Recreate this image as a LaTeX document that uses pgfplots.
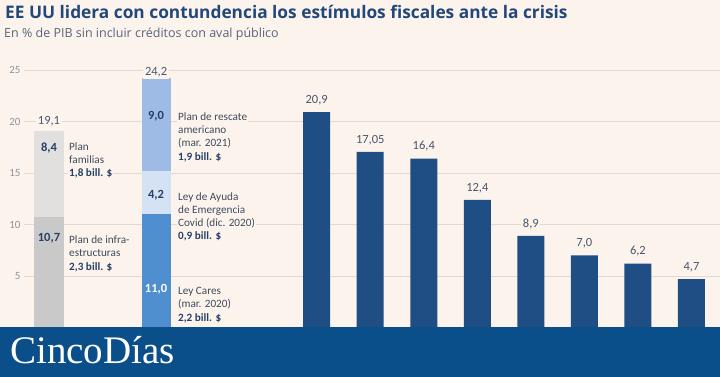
\documentclass[border=0pt]{standalone}
\usepackage{pgfplots}
\pgfplotsset{compat=1.18}
\usepackage{pgfplotstable}
\usepackage{fontspec}
\setmainfont{Carlito}
\newfontfamily\titlefont{Open Sans}
\newfontfamily\logofont{Liberation Serif}
\definecolor{bg}{RGB}{252,244,236}
\definecolor{gridc}{RGB}{226,218,210}
\definecolor{tickc}{RGB}{140,148,162}
\definecolor{darkbar}{RGB}{31,78,133}
\definecolor{titlec}{RGB}{33,72,122}
\definecolor{subc}{RGB}{88,100,122}
\definecolor{txtc}{RGB}{62,74,94}
\definecolor{numc}{RGB}{38,64,104}
\definecolor{totc}{RGB}{72,86,110}
\definecolor{grayA}{RGB}{201,201,201}
\definecolor{grayB}{RGB}{226,224,222}
\definecolor{blueA}{RGB}{79,143,207}
\definecolor{blueB}{RGB}{213,226,244}
\definecolor{blueC}{RGB}{158,187,229}
\definecolor{banner}{RGB}{11,79,138}

\pgfplotstableread{
x y lab
5 20.9 20,9
6 17.05 17,05
7 16.4 16,4
8 12.4 12,4
9 8.9 8,9
10 7.0 7,0
11 6.2 6,2
12 4.7 4,7
}\darkdata

\tikzset{
 num/.style={font=\bfseries\fontsize{12.5}{13}\selectfont, text=numc, anchor=base, inner sep=0pt},
 ann/.style={font=\fontsize{11.2}{13.3}\selectfont, text=txtc, anchor=base west, align=left, inner sep=1pt, fill=bg},
 tot/.style={font=\fontsize{12.5}{13}\selectfont, text=totc, anchor=base, fill=bg, inner sep=2pt},
}

\begin{document}
\begin{tikzpicture}[x=1pt,y=1pt]
\fill[bg] (0,0) rectangle (720,377);
\node[anchor=base west, inner sep=0pt, font=\titlefont\bfseries\fontsize{17.3}{20}\selectfont, text=titlec] at (5,358.5) {EE UU lidera con contundencia los estímulos fiscales ante la crisis};
\node[anchor=base west, inner sep=0pt, font=\titlefont\fontsize{12.5}{14}\selectfont, text=subc] at (4,339.7) {En \% de PIB sin incluir créditos con aval público};

\begin{axis}[
  at={(24pt,49.5pt)}, anchor=south west,
  scale only axis, width=696pt, height=257.5pt,
  xmin=-0.467, xmax=12.533, ymin=0, ymax=25,
  ybar, bar shift=0pt,
  axis line style={draw=none}, tick style={draw=none},
  xtick=\empty, ytick={5,10,15,20,25},
  ymajorgrids, grid style={gridc, line width=0.9pt},
  yticklabel style={font=\fontsize{11}{12}\selectfont, text=tickc},
  /pgf/number format/assume math mode=true,
  clip=false,
]
\addplot[fill=darkbar, draw=none, bar width=27pt,
  nodes near coords, point meta=explicit symbolic,
  nodes near coords style={font=\fontsize{12.5}{13}\selectfont, text=totc, fill=bg, inner sep=1.5pt, text depth=0pt, anchor=south, yshift=7pt}]
  table[x=x, y=y, meta=lab] {\darkdata};
\addplot[fill=grayB, draw=none, bar width=30pt] coordinates {(0,19.1)};
\addplot[fill=grayA, draw=none, bar width=30pt] coordinates {(0,10.7)};
\addplot[fill=blueC, draw=none, bar width=29pt] coordinates {(2,24.2)};
\addplot[fill=blueB, draw=none, bar width=29pt] coordinates {(2,15.2)};
\addplot[fill=blueA, draw=none, bar width=29pt] coordinates {(2,11.0)};

\node[tot] at (axis cs:0,19.66) {19,1};
\node[tot] at (axis cs:2,24.51) {24,2};
\node[num] at (axis cs:0,17.07) {8,4};
\node[num] at (axis cs:0,8.33) {10,7};
\node[num] at (axis cs:2,20.15) {9,0};
\node[num] at (axis cs:2,12.48) {4,2};
\node[num, text=white] at (axis cs:2,3.35) {11,0};

\node[ann] at (axis cs:0.355,14.64) {Plan\\familias\\\textbf{\textcolor{numc}{1,8 bill. \$}}};
\node[ann] at (axis cs:0.355,5.58) {Plan de infra-\\estructuras\\\textbf{\textcolor{numc}{2,3 bill. \$}}};
\node[ann] at (axis cs:2.39,16.26) {Plan de rescate\\americano\\(mar. 2021)\\\textbf{\textcolor{numc}{1,9 bill. \$}}};
\node[ann] at (axis cs:2.39,8.50) {Ley de Ayuda\\de Emergencia\\Covid (dic. 2020)\\\textbf{\textcolor{numc}{0,9 bill. \$}}};
\node[ann] at (axis cs:2.39,0.63) {Ley Cares\\(mar. 2020)\\\textbf{\textcolor{numc}{2,2 bill. \$}}};
\end{axis}

\fill[banner] (0,0) rectangle (720,50);
\node[anchor=base west, inner sep=0pt, text=white, font=\logofont\fontsize{39}{39}\selectfont] at (10,13) {CincoDías};
\pgfresetboundingbox
\useasboundingbox (0,0) rectangle (720,377);
\end{tikzpicture}
\end{document}
